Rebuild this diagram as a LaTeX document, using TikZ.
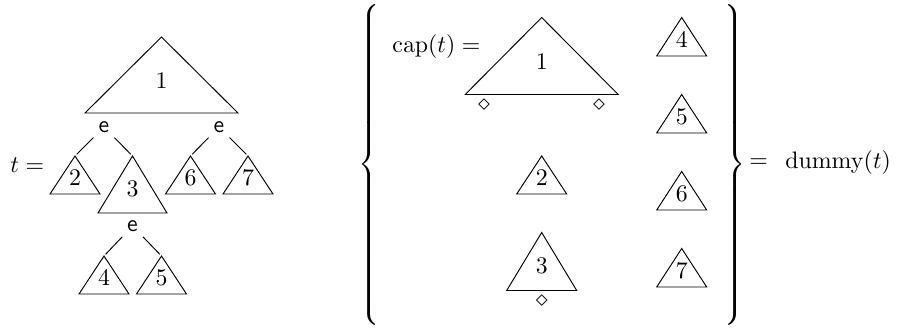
\documentclass[tikz,border=0pt]{standalone}
\usepackage{amsmath,amssymb}
\usetikzlibrary{positioning}

\tikzset{
  pics/subtree/.style n args={3}{code={
    \coordinate (-top) at (0,0);
    \draw (0,0) -- (-#1,#2) -- (#1,#2) -- cycle;
    \node (-lbl) at (0,0.57*#2) {$#3$};
  }}
}

\begin{document}
\begin{tikzpicture}[x=0.42pt, y=-0.42pt,
  lab/.style={font=\sffamily, inner sep=2pt},
  hole/.style={inner sep=0pt},
  brc/.style={inner sep=0pt, yscale=0.975, transform shape},
  edge/.style={shorten >=1pt}]
\useasboundingbox (0,0) rectangle (897,333);
% the tree t
\node[inner sep=0, anchor=west] (teq) at (10,165) {$t =$};
\pic (t1) at (161.5,37) {subtree={76.5}{76}{1}};
\node[lab] (e1) at (104,127) {e};
\node[lab] (e2) at (219,127) {e};
\pic (t2) at (75,156) {subtree={25}{38}{2}};
\pic (t3) at (132.5,156) {subtree={34.5}{57}{3}};
\pic (t6) at (190.5,156) {subtree={25}{38}{6}};
\pic (t7) at (248,156) {subtree={25}{38}{7}};
\node[lab] (e3) at (132.5,226) {e};
\pic (t4) at (104,256) {subtree={25}{38}{4}};
\pic (t5) at (161.5,256) {subtree={25}{38}{5}};
\draw[edge] (e1) -- (t2-top);
\draw[edge] (e1) -- (t3-top);
\draw[edge] (e2) -- (t6-top);
\draw[edge] (e2) -- (t7-top);
\draw[edge] (e3) -- (t4-top);
\draw[edge] (e3) -- (t5-top);
% the set of pieces
\node[brc] (lbr) at (371,166.5) {$\left\{\vrule height 68pt depth 68pt width 0pt\right.$};
\node[inner sep=0, anchor=west] (capeq) at (392,47) {$\mathrm{cap}(t) =$};
\pic (c1) at (541.7,17.5) {subtree={76.5}{77}{1}};
\node[hole] (d1) at (484,105) {$\diamond$};
\node[hole] (d2) at (599,105) {$\diamond$};
\pic (p2) at (541.7,156) {subtree={25}{38}{2}};
\pic (p3) at (541.7,232.5) {subtree={35}{58}{3}};
\node[hole] (d3) at (541.7,301) {$\diamond$};
\pic (p4) at (681.7,17.5) {subtree={25}{38.5}{4}};
\pic (p5) at (681.7,94.5) {subtree={25}{38.5}{5}};
\pic (p6) at (681.7,171.5) {subtree={25}{38.5}{6}};
\pic (p7) at (681.7,248.5) {subtree={25}{38.5}{7}};
\node[brc] (rbr) at (734,166.5) {$\left.\vrule height 68pt depth 68pt width 0pt\right\}$};
\node[inner sep=0] (eq) at (758.5,163) {$=$};
\node[inner sep=0, right=7pt of eq] (dum) {$\mathrm{dummy}(t)$};
\end{tikzpicture}
\end{document}
